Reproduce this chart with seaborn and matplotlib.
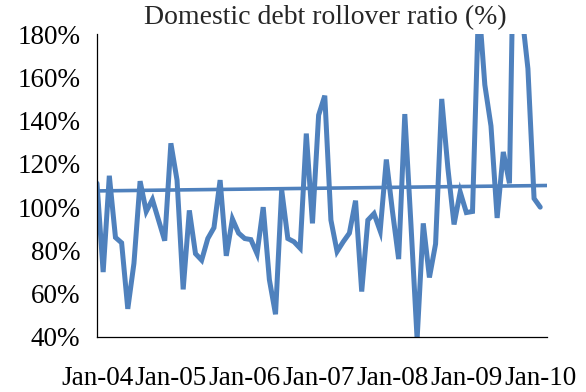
import matplotlib
matplotlib.use("Agg")
import matplotlib.pyplot as plt
import numpy as np
import pandas as pd
import seaborn as sns

# Monthly domestic debt rollover ratio (%), Jan-2004 .. Jan-2010
rollover_ratio = [
    111, 70, 114.5, 86, 83.5, 53, 74, 112, 98, 103.5,
    94, 84.5, 129.5, 112.5, 62, 98.5, 78.5, 75.5, 85.5, 90.5,
    112.5, 77.5, 94.5, 88, 85.5, 85, 78.5, 100, 66.5, 50.5,
    108, 85.5, 84, 81, 134, 92.5, 142.5, 151.5, 94, 79.5,
    84, 88, 103, 61, 94, 97, 89, 122, 98, 76,
    143, 92, 39, 92.5, 67.5, 83, 150, 118, 92, 107,
    97.5, 98, 195, 156.5, 137.5, 95, 125.5, 111, 280, 190,
    164, 104, 100,
]
# Trend line level at the start and end of the period (%)
trend_values = [107.5, 110.0]

year_labels = ["Jan-04", "Jan-05", "Jan-06", "Jan-07", "Jan-08", "Jan-09", "Jan-10"]
y_ticks = [40, 60, 80, 100, 120, 140, 160, 180]
y_tick_labels = [f"{v}%" for v in y_ticks]
title = "Domestic debt rollover ratio (%)"

sns.set_style("white")
plt.rcParams["font.family"] = ["Liberation Serif", "DejaVu Serif"]

blue = "#4F81BD"
months = np.arange(len(rollover_ratio))
x_end = 73.1

df = pd.DataFrame({"month": months, "ratio": rollover_ratio})
trend_df = pd.DataFrame({"month": [0, x_end], "ratio": trend_values})

fig = plt.figure(figsize=(5.86, 3.92), dpi=100)
ax = fig.add_axes([97 / 586, 1 - 337 / 392, 450 / 586, 303 / 392])

sns.lineplot(data=df, x="month", y="ratio", ax=ax, color=blue, linewidth=3.6,
             solid_joinstyle="miter")
sns.lineplot(data=trend_df, x="month", y="ratio", ax=ax, color=blue, linewidth=2.6)

ax.set_xlim(0, x_end)
ax.set_ylim(40, 180)
ax.set_xticks(np.arange(0, 73, 12))
ax.set_xticklabels(year_labels, fontsize=19.5)
ax.set_yticks(y_ticks)
ax.set_yticklabels(y_tick_labels, fontsize=19.5)
ax.set_xlabel("")
ax.set_ylabel("")

for side in ("top", "right"):
    ax.spines[side].set_visible(False)
for side in ("left", "bottom"):
    ax.spines[side].set_color("black")
    ax.spines[side].set_linewidth(0.9)

ax.tick_params(axis="y", direction="out", length=4, width=0.9, color="#868686",
               pad=8, labelcolor="black")
ax.tick_params(axis="x", direction="out", length=5, width=0.9, color="#868686",
               pad=16, labelcolor="black")

fig.text(325 / 586, 1 - 18 / 392, title, ha="center", va="center", fontsize=20)

fig.savefig("out.png", dpi=100)
